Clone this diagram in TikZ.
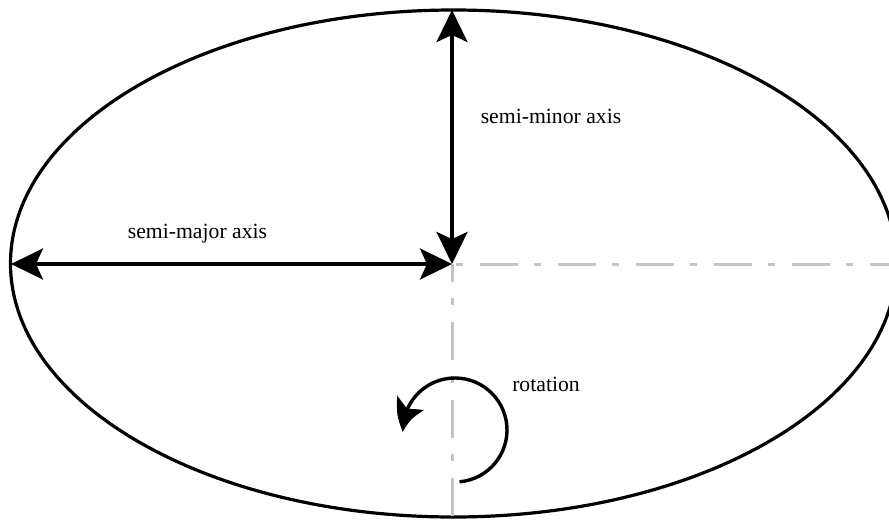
\documentclass[tikz,border=0pt]{standalone}
\usepackage{fontspec}
\setmainfont{Liberation Serif}
\usetikzlibrary{arrows.meta,bending}
\begin{document}
\begin{tikzpicture}[x=1pt,y=-1pt,
  bigtip/.tip={Stealth[length=32pt,width=31pt,inset=7pt]},
  axisline/.style={line width=3.4pt, bigtip-bigtip},
  guide/.style={draw=black!23, line width=3pt, dash pattern=on 38pt off 16pt on 7pt off 17pt},
  lbl/.style={font=\fontsize{21.7}{26}\selectfont, anchor=base, inner sep=0pt}]
\useasboundingbox (0,0) rectangle (889,522);
\clip (0,0) rectangle (889,522);
\coordinate (c) at (452,264);
\coordinate (L) at (11,264);
\coordinate (T) at (452,10);
\coordinate (R) at (889,264);
\coordinate (B) at (452,517);
\coordinate (rc) at (455,430);
% ellipse
\draw[line width=3.2pt] (453.5,263.5) ellipse [x radius=443, y radius=253.5];
% guide lines
\draw[guide, dash phase=50pt] (c) -- (R);
\draw[guide, dash phase=20pt] (c) -- (B);
% axes
\draw[axisline] (L) -- (c);
\draw[axisline] (T) -- (c);
% rotation
\draw[line width=3.4pt, -{Stealth[length=31pt,width=30pt,inset=7pt,bend]}]
  ([shift={(85:52)}]rc) arc[start angle=85, end angle=-182, radius=52];
% labels
\node[lbl] (maj) at (197.5,238) {semi-major axis};
\node[lbl] (min) at (551,123) {semi-minor axis};
\node[lbl] (rot) at (546,391) {rotation};
\end{tikzpicture}
\end{document}
